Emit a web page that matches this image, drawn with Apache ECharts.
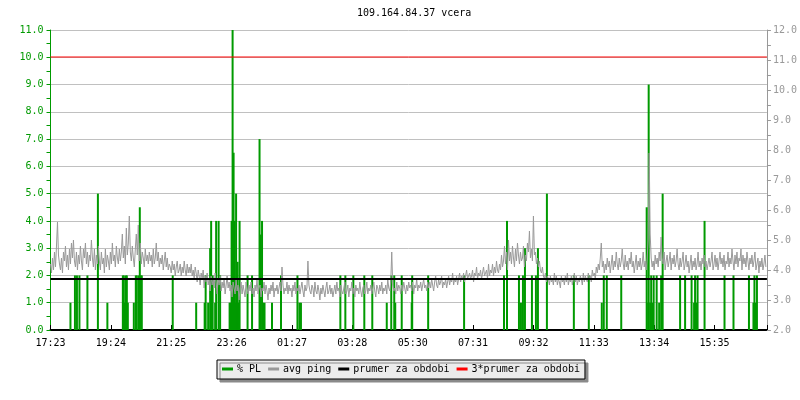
<!DOCTYPE html>
<html><head><meta charset="utf-8">
<script src="https://cdn.jsdelivr.net/npm/echarts@6/dist/echarts.min.js"></script>
<style>html,body{margin:0;padding:0;background:#fff}#c{width:800px;height:400px}</style>
</head><body><div id="c"></div>
<script>
const titleText = '109.164.84.37 vcera';
const tickLabels = ['17:23','19:24','21:25','23:26','01:27','03:28','05:30','07:31','09:32','11:33','13:34','15:35'];
const tickStepMin = 121;
const spanMin = 1436;
const legendNames = ['% PL','avg ping','prumer za obdobi','3*prumer za obdobi'];

// % PL spikes: minutes after 17:23 and loss value (left axis)
const plMinutes = [40,49,53,58,74,95,114,145,147,149,151,153,155,167,171,173,177,179,181,183,245,
  292,309,311,316,320,322,325,330,332,337,340,359,361,363,365,367,369,371,372,374,375,377,379,
  395,404,419,421,424,426,429,444,462,495,499,502,581,591,607,629,645,674,683,689,691,704,724,725,757,
  829,909,915,939,943,947,951,965,973,977,995,1049,1079,
  1105,1109,1115,1144,1195,1198,1199,1202,1204,1207,1209,1215,1220,1224,1227,1262,1272,1285,1290,1292,1295,1297,1311,1351,1369,1400,1409,1411,1414,1416];
const plValues = [1,2,2,2,2,5,1,2,2,1,2,2,1,1,2,2,2,4.5,2,2,2,
  1,1,2,1,3,4,2,1,4,4,2,1,1,4,11,6.5,4,1,5,1,2.5,1,4,
  2,2,7,3.5,4,1,1,1,2,2,1,1,2,2,2,2,2,1,2,2,1,2,1,2,2,
  2,2,4,2,1,2,3,2,2,3,5,2,2,
  1,2,2,2,4.5,1,9,1,2,1,2,2,1,2,5,2,2,2,1,2,1,2,4,2,2,2,1,2,1,2];

// avg ping, one reading every 2 minutes (right axis)
const pingStepMin = 2;
const pingValues = [
  4.2,3.9,4.4,4.0,4.6,4.1,4.8,5.6,4.5,4.2, 4.0,4.4,3.9,4.6,4.3,4.8,4.1,4.5,4.0,4.7,
  4.2,4.9,4.4,5.0,4.3,4.1,4.6,4.0,4.5,4.2, 4.8,4.3,4.0,4.7,4.4,4.9,4.2,4.6,4.1,4.5,
  4.3,5.0,4.4,4.1,4.7,4.0,4.5,4.2,4.8,4.3, 4.0,4.6,4.2,4.4,3.9,4.7,4.1,4.5,4.3,4.0,
  4.6,4.2,4.9,4.3,4.5,4.1,4.8,4.4,4.2,4.7, 4.3,4.6,5.2,4.4,4.8,4.2,5.4,4.5,4.9,5.8,
  4.6,4.3,4.8,4.4,4.1,4.7,5.2,4.5,5.5,4.3, 4.9,4.2,4.6,4.4,4.1,4.7,4.3,4.5,4.2,4.6,
  4.3,4.5,4.1,4.7,4.2,4.4,4.9,4.3,4.6,4.1, 4.4,4.2,4.5,4.0,4.3,4.6,4.1,4.4,4.0,4.2,
  4.1,3.9,4.3,4.0,4.2,3.8,4.1,4.3,3.9,4.0, 4.2,3.8,4.1,3.9,4.3,4.0,3.8,4.2,3.9,4.1,
  3.9,4.2,3.8,4.0,3.7,4.1,3.9,3.6,4.0,3.8, 3.5,3.9,3.7,4.0,3.4,3.8,3.6,3.9,3.5,3.7,
  3.3,3.8,3.5,3.7,3.4,3.9,3.6,3.2,3.7,3.5, 3.8,3.3,3.6,3.4,3.7,3.2,3.5,3.8,3.4,3.6,
  3.3,3.5,3.1,3.6,3.4,3.2,3.7,3.3,3.5,3.0, 3.4,3.6,3.2,3.5,3.3,3.1,3.6,3.4,3.2,3.5,
  3.3,3.6,3.2,3.4,3.1,3.5,3.3,3.7,3.2,3.4, 3.5,3.1,3.4,3.3,3.6,3.2,3.5,3.3,3.0,3.4,
  3.2,3.5,3.3,3.6,3.1,3.4,3.3,3.5,3.2,3.4, 3.6,3.3,4.1,3.5,3.2,3.4,3.3,3.6,3.2,3.5,
  3.3,3.4,3.1,3.5,3.3,3.6,3.2,3.4,3.3,3.5, 3.2,3.4,3.6,3.3,3.1,3.5,3.3,3.4,4.3,3.5,
  3.3,3.2,3.5,3.4,3.1,3.6,3.3,3.2,3.5,3.3, 3.0,3.4,3.2,3.5,3.3,3.1,3.4,3.6,3.2,3.3,
  3.5,3.2,3.4,3.1,3.3,3.5,3.2,3.6,3.3,3.4, 3.1,3.5,3.3,3.2,3.4,3.6,3.2,3.3,3.5,3.1,
  3.4,3.3,3.6,3.2,3.4,3.1,3.5,3.3,3.4,3.2, 3.6,3.3,3.1,3.4,3.5,3.2,3.3,3.6,3.2,3.4,
  3.3,3.5,3.2,3.4,3.6,3.3,3.1,3.5,3.4,3.2, 3.5,3.3,3.6,3.2,3.4,3.3,3.5,3.2,3.7,3.4,
  3.3,3.6,4.6,3.5,3.3,3.4,3.2,3.6,3.3,3.5, 3.4,3.2,3.5,3.3,3.6,3.4,3.2,3.5,3.3,3.6,
  3.4,3.5,3.3,3.6,3.2,3.5,3.4,3.7,3.3,3.5, 3.4,3.6,3.3,3.5,3.7,3.4,3.5,3.3,3.6,3.4,
  3.6,3.4,3.7,3.5,3.3,3.6,3.8,3.5,3.4,3.7, 3.5,3.6,3.8,3.4,3.6,3.5,3.7,3.4,3.6,3.8,
  3.5,3.7,3.6,3.9,3.5,3.7,3.6,3.8,3.5,3.7, 3.9,3.6,3.8,3.7,3.9,3.6,3.8,4.0,3.7,3.8,
  3.9,3.7,3.8,4.0,3.6,3.9,3.8,4.1,3.7,3.9, 3.8,4.0,3.7,3.9,4.1,3.8,3.9,4.0,3.7,4.2,
  3.8,4.0,3.9,4.2,3.8,4.1,3.9,4.3,4.0,3.9, 4.2,4.0,4.5,4.1,4.3,4.8,4.2,4.6,4.0,5.0,
  4.3,4.6,4.2,4.8,4.4,4.1,4.7,4.3,4.9,4.5, 4.2,4.6,4.3,4.4,4.8,4.1,4.5,4.3,4.9,4.6,
  5.3,4.4,4.7,4.3,5.8,4.5,4.6,4.2,4.4,4.1, 4.3,4.0,3.9,4.1,3.8,3.7,3.9,3.6,3.8,3.7,
  3.5,3.8,3.6,3.7,3.5,3.9,3.6,3.8,3.5,3.7, 3.6,3.4,3.8,3.6,3.7,3.5,3.8,3.6,3.9,3.5,
  3.7,3.6,3.8,3.5,3.7,3.9,3.6,3.8,3.5,3.7, 3.6,3.8,3.7,3.5,3.9,3.6,3.8,3.7,3.6,3.9,
  3.7,3.8,3.6,4.0,3.8,3.9,3.7,4.1,3.9,4.2, 4.0,4.4,4.9,4.1,4.3,3.9,4.2,4.0,4.4,4.1,
  4.3,3.9,4.2,4.5,4.0,4.3,4.1,4.6,4.2,4.0, 4.4,4.1,4.3,4.7,4.2,4.0,4.5,4.1,4.3,4.0,
  4.4,4.2,4.6,4.1,4.3,3.9,4.2,4.5,4.0,4.3, 4.1,4.4,4.0,4.2,4.6,4.1,4.3,4.0,4.4,5.0,
  7.9,
  5.2,4.4,4.1,4.3,4.0,4.5,4.2,4.4,4.1,4.6, 4.3,5.1,4.4,4.2,4.6,4.0,4.3,4.5,4.1,
  4.3,4.6,4.0,4.4,4.2,4.5,4.1,4.3,4.7,4.2, 4.0,4.4,4.1,4.3,4.6,4.0,4.2,4.5,4.1,4.3,
  3.9,4.2,4.5,4.0,4.3,4.1,4.4,4.0,4.2,4.6, 4.1,4.3,4.0,4.4,4.2,4.5,4.1,4.3,4.0,4.2,
  4.4,4.1,4.3,4.6,4.0,4.2,4.5,4.1,4.4,4.0, 4.3,4.6,4.2,4.4,4.1,4.5,4.0,4.3,4.2,4.6,
  4.1,4.4,4.2,4.7,4.3,4.0,4.5,4.2,4.6,4.1, 4.4,4.3,4.7,4.0,4.5,4.2,4.4,4.1,4.6,4.3,
  4.0,4.4,4.2,4.5,4.1,4.3,4.6,4.0,4.2,4.4, 3.9,4.3,4.1,4.4,4.0,4.2,4.5,4.1
];
const prumer = 3.7;

const FONT = 'DejaVu Sans Mono';
const GREEN = '#009a00';
const GREY = '#999999';

const plData = plMinutes.map((m, i) => [m, plValues[i]]);
const pingData = pingValues.map((v, i) => [i * pingStepMin, v]);

const chart = echarts.init(document.getElementById('c'), null, {renderer: 'canvas'});
chart.setOption({
  animation: false,
  backgroundColor: '#ffffff',
  title: {
    text: titleText, left: 352, top: 3,
    textStyle: {fontFamily: FONT, fontSize: 10, fontWeight: 'normal', color: '#000'}
  },
  legend: {
    data: legendNames.map(n => ({name: n, icon: 'rect'})),
    left: 217, top: 360,
    padding: [4, 5, 5, 5],
    itemGap: 7, itemWidth: 11, itemHeight: 3,
    backgroundColor: '#ececec', borderColor: '#000', borderWidth: 1,
    shadowColor: '#8a8a8a', shadowOffsetX: 3, shadowOffsetY: 3, shadowBlur: 0,
    textStyle: {fontFamily: FONT, fontSize: 10, color: '#000', padding: [0, 0, 0, -1]}
  },
  grid: {left: 50.5, right: 30.5, top: 30, bottom: 70, containLabel: false},
  xAxis: {
    type: 'value', min: 0, max: spanMin, interval: tickStepMin,
    axisLine: {lineStyle: {color: '#000', width: 2}},
    axisTick: {inside: true, length: 5, lineStyle: {color: '#000', width: 1}},
    splitLine: {show: false},
    axisLabel: {
      fontFamily: FONT, fontSize: 10, color: '#000', margin: 8,
      formatter: v => tickLabels[Math.round(v / tickStepMin)] || ''
    }
  },
  yAxis: [{
    type: 'value', min: 0, max: 11, interval: 1, position: 'left',
    axisLine: {show: true, lineStyle: {color: GREEN, width: 1}},
    axisTick: {show: true, length: 4, lineStyle: {color: GREEN}},
    minorTick: {show: true, splitNumber: 2, length: 4, lineStyle: {color: GREEN}},
    splitLine: {show: true, lineStyle: {color: '#c0c0c0', width: 1}},
    axisLabel: {fontFamily: FONT, fontSize: 10, color: GREEN, margin: 7, formatter: v => v.toFixed(1)}
  }, {
    type: 'value', min: 2, max: 12, interval: 1, position: 'right',
    axisLine: {show: true, lineStyle: {color: GREY, width: 1}},
    axisTick: {show: true, length: 4, lineStyle: {color: GREY}},
    minorTick: {show: true, splitNumber: 2, length: 4, lineStyle: {color: GREY}},
    splitLine: {show: false},
    axisLabel: {fontFamily: FONT, fontSize: 10, color: GREY, margin: 6, formatter: v => v.toFixed(1)}
  }],
  series: [{
    name: 'avg ping', type: 'line', yAxisIndex: 1, data: pingData,
    symbol: 'none', lineStyle: {color: GREY, width: 1}, itemStyle: {color: GREY}
  }, {
    name: '% PL', type: 'bar', yAxisIndex: 0, data: plData, barWidth: 2,
    itemStyle: {color: GREEN}
  }, {
    name: 'prumer za obdobi', type: 'line', yAxisIndex: 1,
    data: [[0, prumer], [spanMin, prumer]],
    symbol: 'none', lineStyle: {color: '#000', width: 2}, itemStyle: {color: '#000'}
  }, {
    name: '3*prumer za obdobi', type: 'line', yAxisIndex: 1,
    data: [[0, 3 * prumer], [spanMin, 3 * prumer]],
    symbol: 'none', lineStyle: {color: '#ff0000', width: 1}, itemStyle: {color: '#ff0000'}
  }]
});
</script>
</body></html>
